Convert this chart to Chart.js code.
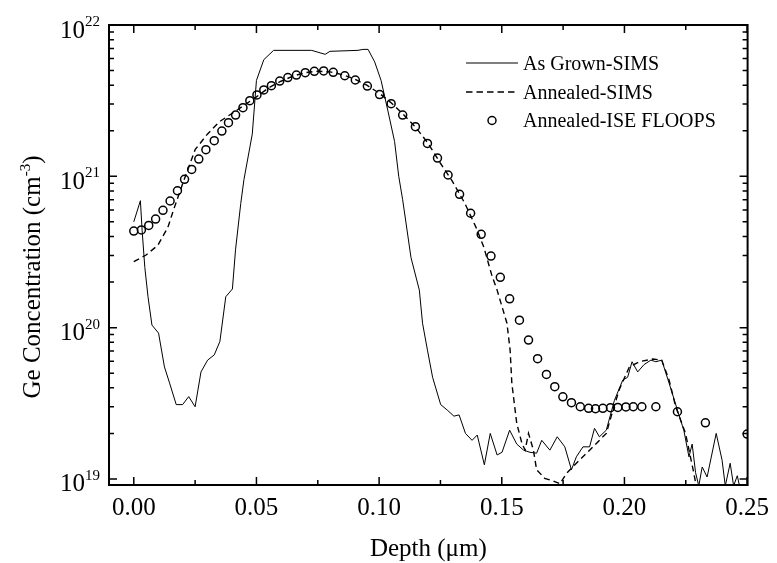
<!DOCTYPE html>
<html>
<head>
<meta charset="utf-8">
<script src="https://cdn.jsdelivr.net/npm/chart.js@4.4.1/dist/chart.umd.min.js"></script>
<style>
  html, body { margin: 0; padding: 0; background: #fff; }
  canvas { display: block; }
</style>
</head>
<body>
<canvas id="chart" width="777" height="563"></canvas>
<script>
const SERIF = '"Liberation Serif", "Times New Roman", serif';

// axis ticks
const xTicks = [0, 0.05, 0.10, 0.15, 0.20, 0.25];
const xMinorTicks = [0.025, 0.075, 0.125, 0.175, 0.225];
const yDecades = [19, 20, 21, 22];

// As Grown-SIMS (solid)
const grownDepth = [0.000, 0.0027, 0.0034, 0.0045, 0.0058, 0.0074, 0.0101, 0.0125, 0.0146, 0.0173,
  0.0199, 0.0224, 0.0250, 0.0274, 0.0301, 0.0328, 0.0351, 0.0375, 0.0402, 0.0415,
  0.0436, 0.0449, 0.0483, 0.0500, 0.0530, 0.0570, 0.0725, 0.0780, 0.0800, 0.0914,
  0.0934, 0.0955, 0.0982, 0.1008, 0.1036, 0.1063, 0.1080, 0.1096, 0.1130, 0.1164,
  0.1177, 0.1197, 0.1218, 0.1251, 0.1278, 0.1305, 0.1326, 0.1352, 0.1379, 0.1400,
  0.1429, 0.1453, 0.1481, 0.1501, 0.1532, 0.1561, 0.1589, 0.1615, 0.1642, 0.1663,
  0.1696, 0.1726, 0.1757, 0.1784, 0.1804, 0.1831, 0.1858, 0.1878, 0.1898, 0.1926,
  0.1959, 0.1993, 0.2013, 0.2031, 0.2054, 0.2080, 0.2108, 0.2128, 0.2152, 0.2182,
  0.2216, 0.2242, 0.2263, 0.2276, 0.2290, 0.2303, 0.2317, 0.2337, 0.2374, 0.2398,
  0.2411, 0.2431, 0.2445, 0.2460, 0.2476];
const grownConc = [5.0e20, 6.9e20, 4.4e20, 2.5e20, 1.6e20, 1.04e20, 9.2e19, 5.5e19, 4.3e19, 3.1e19,
  3.1e19, 3.5e19, 3.0e19, 5.1e19, 6.1e19, 6.6e19, 8.1e19, 1.6e20, 1.8e20, 3.3e20,
  6.6e20, 9.5e20, 1.9e21, 4.3e21, 5.9e21, 6.8e21, 6.8e21, 6.4e21, 6.7e21, 6.8e21,
  6.9e21, 6.9e21, 5.7e21, 4.3e21, 2.7e21, 1.7e21, 1.0e21, 7.0e20, 2.9e20, 1.77e20,
  1.07e20, 7.1e19, 4.7e19, 3.1e19, 2.85e19, 2.6e19, 2.65e19, 2.0e19, 1.8e19, 1.95e19,
  1.24e19, 2.0e19, 1.44e19, 1.5e19, 2.1e19, 1.7e19, 1.55e19, 1.5e19, 1.48e19, 1.8e19,
  1.55e19, 1.9e19, 1.63e19, 1.15e19, 1.4e19, 1.63e19, 1.63e19, 2.16e19, 1.9e19, 2.1e19,
  3.3e19, 4.5e19, 4.7e19, 5.95e19, 5.1e19, 5.7e19, 6.1e19, 5.95e19, 6.1e19, 4.3e19,
  2.85e19, 2.1e19, 1.4e19, 1.7e19, 1.1e19, 9.0e18, 1.2e19, 1.03e19, 2.0e19, 1.33e19,
  9.0e18, 1.27e19, 9.0e18, 1.05e19, 8.0e18];

// Annealed-SIMS (dashed)
const annealDepth = [0.000, 0.005, 0.0098, 0.0139, 0.0162, 0.020, 0.025, 0.030, 0.035, 0.040,
  0.045, 0.050, 0.055, 0.060, 0.065, 0.070, 0.075, 0.080, 0.085, 0.090,
  0.095, 0.100, 0.105, 0.110, 0.115, 0.120, 0.125, 0.130, 0.135, 0.1395,
  0.1427, 0.1460, 0.1481, 0.1521, 0.1534, 0.1541, 0.1561, 0.1582, 0.1595, 0.1609,
  0.1629, 0.1642, 0.1675, 0.1716, 0.1737, 0.1764, 0.1804, 0.1858, 0.1926, 0.1946,
  0.1979, 0.2020, 0.2060, 0.2115, 0.2152, 0.2182, 0.2209, 0.2249, 0.2269, 0.2283,
  0.2298];
const annealConc = [2.73e20, 3.02e20, 3.5e20, 4.6e20, 6.0e20, 9.0e20, 1.5e21, 1.9e21, 2.3e21, 2.6e21,
  2.95e21, 3.35e21, 3.85e21, 4.25e21, 4.6e21, 4.85e21, 4.95e21, 4.9e21, 4.7e21, 4.4e21,
  4.0e21, 3.55e21, 3.05e21, 2.55e21, 2.1e21, 1.65e21, 1.22e21, 9.2e20, 6.6e20, 4.6e20,
  3.4e20, 2.2e20, 1.77e20, 1.07e20, 7.1e19, 4.3e19, 2.33e19, 1.72e19, 1.55e19, 2.0e19,
  1.55e19, 1.15e19, 1.01e19, 9.6e18, 9.3e18, 1.09e19, 1.27e19, 1.55e19, 2.0e19, 2.6e19,
  3.9e19, 5.5e19, 5.95e19, 6.2e19, 6.1e19, 4.5e19, 3.0e19, 2.0e19, 1.4e19, 1.09e19,
  8.0e18];

// Annealed-ISE FLOOPS (circles)
const floopsDepth = [0.000, 0.0031, 0.0061, 0.0089, 0.0119, 0.0148, 0.0178, 0.0207, 0.0236, 0.0265,
  0.0294, 0.0328, 0.0359, 0.0386, 0.0415, 0.0445, 0.0473, 0.0502, 0.0530, 0.0561,
  0.0595, 0.0628, 0.0663, 0.0699, 0.0736, 0.0774, 0.0813, 0.0860, 0.0903, 0.0952,
  0.1002, 0.1049, 0.1096, 0.1148, 0.1197, 0.1238, 0.1281, 0.1328, 0.1373, 0.1416,
  0.1456, 0.1494, 0.1532, 0.1572, 0.1609, 0.1646, 0.1682, 0.1716, 0.1749, 0.1784,
  0.1820, 0.1854, 0.1882, 0.1912, 0.1943, 0.1973, 0.2006, 0.2036, 0.2071, 0.2128,
  0.2216, 0.2330, 0.2500];
const floopsConc = [4.35e20, 4.42e20, 4.74e20, 5.22e20, 5.96e20, 6.87e20, 8.03e20, 9.55e20, 1.11e21, 1.30e21,
  1.50e21, 1.72e21, 1.99e21, 2.26e21, 2.54e21, 2.84e21, 3.16e21, 3.45e21, 3.72e21, 3.97e21,
  4.26e21, 4.49e21, 4.67e21, 4.84e21, 4.94e21, 4.97e21, 4.87e21, 4.62e21, 4.33e21, 3.95e21,
  3.47e21, 3.02e21, 2.54e21, 2.13e21, 1.65e21, 1.32e21, 1.02e21, 7.60e20, 5.70e20, 4.14e20,
  2.97e20, 2.15e20, 1.55e20, 1.12e20, 8.28e19, 6.23e19, 4.91e19, 4.07e19, 3.49e19, 3.19e19,
  3.00e19, 2.93e19, 2.91e19, 2.93e19, 2.96e19, 2.97e19, 2.99e19, 3.00e19, 3.00e19, 3.00e19,
  2.78e19, 2.35e19, 1.98e19];

const toPoints = (xs, ys) => xs.map((x, i) => ({ x, y: ys[i] }));

// Frame, inward ticks, superscript labels and legend drawn on top of the chart.
const axesFrame = {
  id: 'axesFrame',
  afterDraw(chart) {
    const { ctx, chartArea: a, scales: { x, y } } = chart;
    ctx.save();
    ctx.strokeStyle = '#000';
    ctx.fillStyle = '#000';

    ctx.lineWidth = 2;
    ctx.strokeRect(a.left, a.top, a.right - a.left, a.bottom - a.top);

    ctx.lineWidth = 1.5;
    ctx.beginPath();
    const xTick = (px, len) => {
      ctx.moveTo(px, a.bottom); ctx.lineTo(px, a.bottom - len);
      ctx.moveTo(px, a.top); ctx.lineTo(px, a.top + len);
    };
    const yTick = (py, len) => {
      ctx.moveTo(a.left, py); ctx.lineTo(a.left + len, py);
      ctx.moveTo(a.right, py); ctx.lineTo(a.right - len, py);
    };
    xTicks.forEach(v => xTick(x.getPixelForValue(v), 8));
    xMinorTicks.forEach(v => xTick(x.getPixelForValue(v), 5));
    yDecades.forEach(d => yTick(y.getPixelForValue(Math.pow(10, d)), 8));
    yDecades.slice(0, -1).forEach(d => {
      for (let m = 2; m <= 9; m++) yTick(y.getPixelForValue(m * Math.pow(10, d)), 5);
    });
    ctx.stroke();

    // y tick labels 10^n
    ctx.textBaseline = 'alphabetic';
    yDecades.forEach(d => {
      const py = y.getPixelForValue(Math.pow(10, d));
      ctx.font = '25px ' + SERIF;
      ctx.textAlign = 'right';
      ctx.fillText('10', 85, py + 12.5);
      ctx.font = '15px ' + SERIF;
      ctx.textAlign = 'left';
      ctx.fillText(String(d), 85, py + 1);
    });

    // y title with superscript
    ctx.save();
    ctx.translate(40, 277);
    ctx.rotate(-Math.PI / 2);
    const main = 'Ge Concentration (cm', sup = '-3', tail = ')';
    ctx.font = '25px ' + SERIF;
    const w1 = ctx.measureText(main).width, w3 = ctx.measureText(tail).width;
    ctx.font = '15px ' + SERIF;
    const w2 = ctx.measureText(sup).width;
    let cx = -(w1 + w2 + w3) / 2;
    ctx.textAlign = 'left';
    ctx.font = '25px ' + SERIF;
    ctx.fillText(main, cx, 0);
    cx += w1;
    ctx.font = '15px ' + SERIF;
    ctx.fillText(sup, cx, -10);
    cx += w2;
    ctx.font = '25px ' + SERIF;
    ctx.fillText(tail, cx, 0);
    ctx.restore();

    // legend
    ctx.font = '20px ' + SERIF;
    ctx.textAlign = 'left';
    ctx.lineWidth = 1.2;
    ctx.beginPath();
    ctx.moveTo(466, 63); ctx.lineTo(518, 63);
    ctx.stroke();
    ctx.setLineDash([6.5, 4]);
    ctx.lineWidth = 1.5;
    ctx.beginPath();
    ctx.moveTo(466, 92); ctx.lineTo(518, 92);
    ctx.stroke();
    ctx.setLineDash([]);
    ctx.beginPath();
    ctx.arc(492, 120.5, 4, 0, Math.PI * 2);
    ctx.stroke();
    ctx.fillText('As Grown-SIMS', 523, 70);
    ctx.fillText('Annealed-SIMS', 523, 98.5);
    ctx.fillText('Annealed-ISE FLOOPS', 523, 127);

    ctx.restore();
  }
};

new Chart(document.getElementById('chart'), {
  type: 'scatter',
  data: {
    datasets: [
      {
        label: 'Annealed-ISE FLOOPS',
        data: toPoints(floopsDepth, floopsConc),
        showLine: false,
        pointStyle: 'circle',
        pointRadius: 4,
        pointBorderWidth: 1.5,
        pointBorderColor: '#000',
        pointBackgroundColor: 'rgba(0,0,0,0)',
      },
      {
        label: 'Annealed-SIMS',
        data: toPoints(annealDepth, annealConc),
        showLine: true,
        pointRadius: 0,
        borderColor: '#000',
        borderWidth: 1.4,
        borderDash: [6, 4],
      },
      {
        label: 'As Grown-SIMS',
        data: toPoints(grownDepth, grownConc),
        showLine: true,
        pointRadius: 0,
        borderColor: '#000',
        borderWidth: 1,
      },
    ],
  },
  options: {
    responsive: false,
    devicePixelRatio: 1,
    animation: false,
    layout: { padding: { top: 25, right: 25, left: 0, bottom: 0 } },
    plugins: { legend: { display: false }, tooltip: { enabled: false } },
    scales: {
      x: {
        type: 'linear',
        min: -0.0101,
        max: 0.2502,
        afterBuildTicks: (scale) => { scale.ticks = xTicks.map(value => ({ value })); },
        afterFit: (scale) => { scale.height = 78; },
        grid: { display: false, drawTicks: false },
        border: { display: false },
        ticks: {
          color: '#000',
          font: { family: SERIF, size: 25 },
          padding: 8,
          maxRotation: 0,
          autoSkip: false,
          callback: (v) => Number(v).toFixed(2),
        },
        title: {
          display: true,
          text: 'Depth (μm)',
          color: '#000',
          font: { family: SERIF, size: 25, lineHeight: 1 },
          padding: { top: 0, bottom: 1 },
        },
      },
      y: {
        type: 'logarithmic',
        min: Math.pow(10, 18.96),
        max: 1e22,
        afterFit: (scale) => { scale.width = 109; },
        grid: { display: false, drawTicks: false },
        border: { display: false },
        ticks: { display: false },
      },
    },
  },
  plugins: [axesFrame],
});
</script>
</body>
</html>
